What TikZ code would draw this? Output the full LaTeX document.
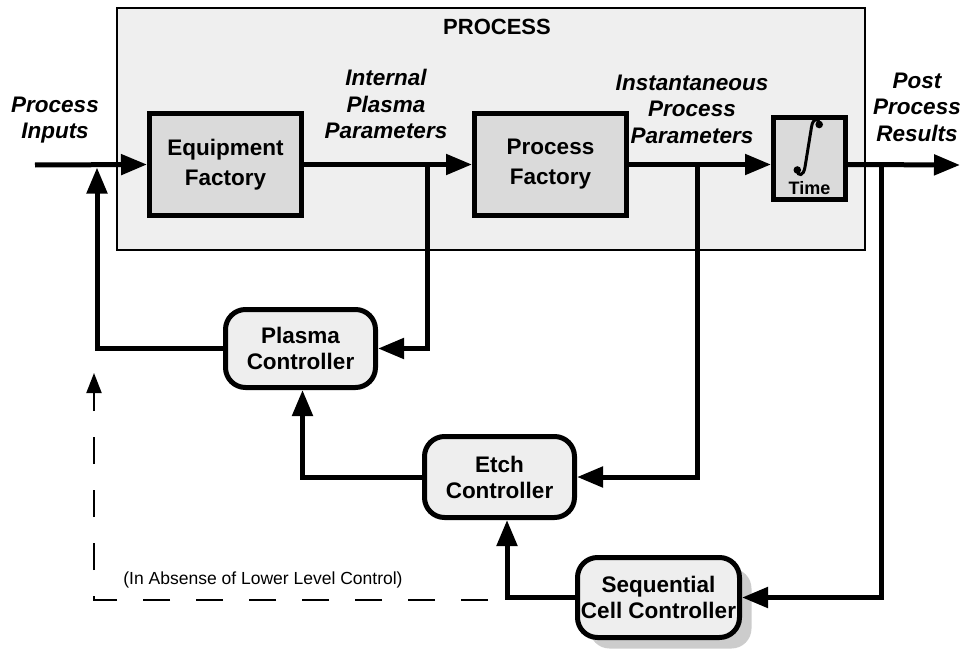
\documentclass[tikz,border=0pt]{standalone}
\usepackage{fontspec}
\setmainfont{Liberation Sans}
\usetikzlibrary{arrows.meta,shadows}
\definecolor{procgray}{HTML}{EFEFEF}
\definecolor{factgray}{HTML}{DADADA}
\definecolor{ctrlgray}{HTML}{EEEEEE}
\definecolor{shadegray}{HTML}{CCCCCC}
\begin{document}
\begin{tikzpicture}[x=1pt,y=-1pt,
  conn/.style={line width=5pt,-{Triangle[length=26pt,width=20pt]}},
  dashconn/.style={line width=2pt,dash pattern=on 27pt off 26pt,-{Triangle[length=20pt,width=15pt]}},
  procbox/.style={draw,line width=1.5pt,fill=procgray,inner sep=0pt},
  factory/.style={draw,line width=5pt,fill=factgray,inner sep=0pt,align=center,
    minimum width=152pt,minimum height=102pt,font=\bfseries\fontsize{22.5}{30}\selectfont},
  timebox/.style={draw,line width=5pt,fill=factgray,inner sep=0pt,minimum width=72pt,minimum height=82pt},
  ctrl/.style={draw,line width=5pt,rounded corners=20pt,fill=ctrlgray,inner sep=0pt,align=center,
    minimum width=150pt,font=\bfseries\fontsize{22.5}{26}\selectfont},
  lab/.style={align=center,font=\bfseries\itshape\fontsize{22.5}{26.5}\selectfont},
  title/.style={font=\bfseries\fontsize{22}{26}\selectfont},
  note/.style={font=\fontsize{17.5}{20}\selectfont},
  intstroke/.style={line width=3pt,line cap=round}
]
\useasboundingbox (0,0) rectangle (963,650);

% process container
\node[procbox,minimum width=748pt,minimum height=242pt] (proc) at (491,129) {};
\node[title] (proctitle) at (497,27) {PROCESS};

% blocks
\node[factory] (equip) at (225.5,164.5) {Equipment\\Factory};
\node[factory] (procf) at (550.5,164.5) {Process\\Factory};
\node[timebox] (time) at (809.5,158.5) {};
% integral sign
\draw[intstroke] (819.5,124) .. controls (818.5,117.5) and (813,117.5) .. (811.5,127)
  -- (805,167) .. controls (803.5,176.5) and (798,176.5) .. (797,170.5);
\fill (819.2,124.5) circle (3.8pt);
\fill (797.3,170) circle (3.8pt);
\node[font=\bfseries\fontsize{18}{20}\selectfont] (timelab) at (809.5,188) {Time};

\node[ctrl,minimum height=78pt] (plasma) at (300.5,348.5) {Plasma\\Controller};
\node[ctrl,minimum height=81pt] (etch) at (499.5,477) {Etch\\Controller};
\node[ctrl,minimum width=162pt,minimum height=80pt,
  drop shadow={shadow xshift=12pt,shadow yshift=-11pt,fill=shadegray,opacity=1}] (seq) at (658.5,597.5) {Sequential\\Cell Controller};

% labels
\node[lab] (inlab) at (55,120) {Process\\Inputs};
\node[lab] (iplab) at (386,104) {Internal\\Plasma\\Parameters};
\node[lab] (isplab) at (692,109) {Instantaneous\\Process\\Parameters};
\node[lab] (outlab) at (917,107) {Post\\Process\\Results};
\node[note] (notelab) at (263,580) {(In Absense of Lower Level Control)};

% coordinates
\coordinate (inp) at (35,165);
\coordinate (outp) at (960,165);
\coordinate (j1) at (427,165);
\coordinate (j2) at (697,165);
\coordinate (j3) at (881,165);
\coordinate (fb) at (97,167.5);
\coordinate (dstart) at (488,600);
\coordinate (dcorner) at (94,600);
\coordinate (dend) at (94,373);

% main line
\draw[conn] (inp) -- (equip.west);
\draw[conn] (equip.east) -- (procf.west);
\draw[conn] (procf.east) -- (procf.east -| time.west);
\draw[conn] (procf.east -| time.east) -- (outp);

% feedback loops
\draw[conn] (j1) |- (plasma.east);
\draw[conn] (plasma.west) -| (fb);
\draw[conn] (j2) |- (etch.east);
\draw[conn] (etch.west) -| ([xshift=2pt]plasma.south);
\draw[conn] (j3) |- (seq.east);
\draw[conn] (seq.west) -| ([xshift=7.5pt]etch.south);

% dashed bypass
\draw[dashconn] (dstart) -- (dcorner) -- (dend);
\end{tikzpicture}
\end{document}
